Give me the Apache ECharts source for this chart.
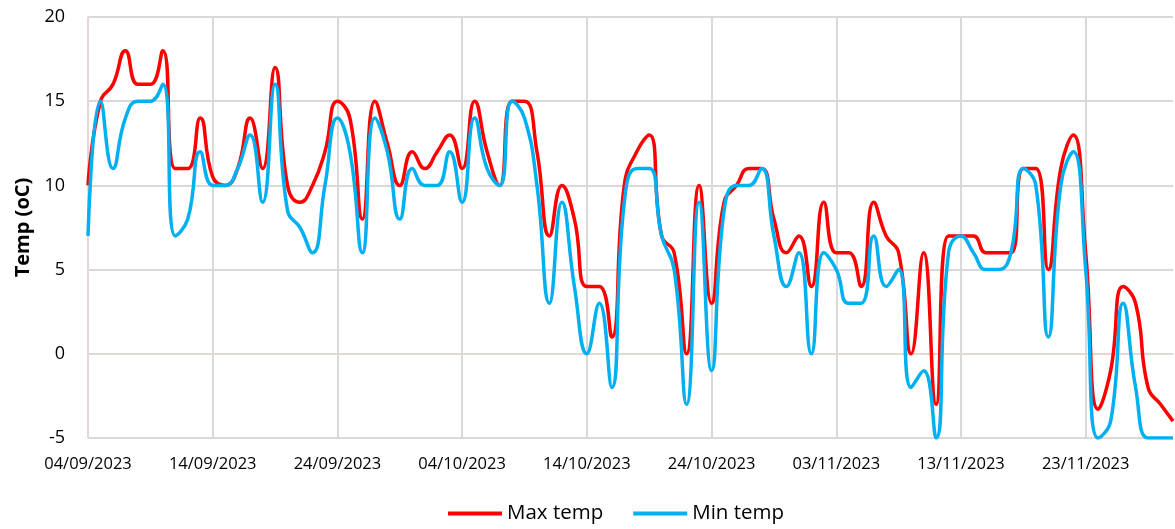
<!DOCTYPE html>
<html>
<head>
<meta charset="utf-8">
<script src="https://cdn.jsdelivr.net/npm/echarts@6/dist/echarts.min.js"></script>
<style>
html,body{margin:0;padding:0;background:#fff;}
#chart{width:1175px;height:529px;}
</style>
</head>
<body>
<div id="chart"></div>
<script>
var dates = [
"04/09/2023","05/09/2023","06/09/2023","07/09/2023","08/09/2023","09/09/2023","10/09/2023","11/09/2023","12/09/2023","13/09/2023",
"14/09/2023","15/09/2023","16/09/2023","17/09/2023","18/09/2023","19/09/2023","20/09/2023","21/09/2023","22/09/2023","23/09/2023",
"24/09/2023","25/09/2023","26/09/2023","27/09/2023","28/09/2023","29/09/2023","30/09/2023","01/10/2023","02/10/2023","03/10/2023",
"04/10/2023","05/10/2023","06/10/2023","07/10/2023","08/10/2023","09/10/2023","10/10/2023","11/10/2023","12/10/2023","13/10/2023",
"14/10/2023","15/10/2023","16/10/2023","17/10/2023","18/10/2023","19/10/2023","20/10/2023","21/10/2023","22/10/2023","23/10/2023",
"24/10/2023","25/10/2023","26/10/2023","27/10/2023","28/10/2023","29/10/2023","30/10/2023","31/10/2023","01/11/2023","02/11/2023",
"03/11/2023","04/11/2023","05/11/2023","06/11/2023","07/11/2023","08/11/2023","09/11/2023","10/11/2023","11/11/2023","12/11/2023",
"13/11/2023","14/11/2023","15/11/2023","16/11/2023","17/11/2023","18/11/2023","19/11/2023","20/11/2023","21/11/2023","22/11/2023",
"23/11/2023","24/11/2023","25/11/2023","26/11/2023","27/11/2023","28/11/2023","29/11/2023","30/11/2023"
];

var maxTemp = [
10, 15, 16, 18, 16, 16, 18, 11, 11, 14,
10.5, 10, 11, 14, 11, 17, 10, 9, 10, 12,
15, 14, 8, 15, 12.5, 10, 12, 11, 12, 13,
11, 15, 12, 10, 15, 15, 12, 7, 10, 8,
4, 4, 1, 10, 12, 13, 7, 6, 0, 10,
3, 9, 10, 11, 11, 8, 6, 7, 4, 9,
6, 6, 4, 9, 7, 6, 0, 6, -3, 7,
7, 7, 6, 6, 6, 11, 11, 5, 11, 13,
6, -3.3, -1, 4, 3, -2, -3, -4
];

var minTemp = [
7, 15, 11, 14, 15, 15, 16, 7, 8, 12,
10, 10, 11, 13, 9, 16, 8.5, 7.5, 6, 10,
14, 12, 6, 14, 12, 8, 11, 10, 10, 12,
9, 14, 11, 10, 15, 14, 10, 3, 9, 4,
0, 3, -2, 9, 11, 11, 7, 5, -3, 9,
-1, 8.5, 10, 10, 11, 7, 4, 6, 0, 6,
5, 3, 3, 7, 4, 5, -2, -1, -5, 6,
7, 6, 5, 5, 6, 11, 10, 1, 10, 12,
5, -5, -4, 3, -2, -5, -5, -5
];

var yTicks = {min: -5, max: 20, interval: 5};

var chart = echarts.init(document.getElementById('chart'), null, {renderer: 'canvas'});
var fontFam = "'Open Sans', 'Liberation Sans', sans-serif";
chart.setOption({
  animation: false,
  backgroundColor: '#ffffff',
  grid: {left: 88, right: 2, top: 17, bottom: 91, containLabel: false},
  legend: {
    bottom: 0,
    left: 443,
    icon: 'rect',
    itemWidth: 54,
    itemHeight: 4,
    itemGap: 30,
    textStyle: {fontFamily: fontFam, fontSize: 20.5, color: '#000'},
    data: ['Max temp', 'Min temp']
  },
  xAxis: {
    type: 'category',
    data: dates,
    boundaryGap: false,
    axisLine: {lineStyle: {color: '#e9d6d3', width: 1.5}},
    axisTick: {show: false},
    axisLabel: {interval: 9, fontFamily: fontFam, fontSize: 16.5, color: '#000', margin: 18},
    splitLine: {show: true, interval: 9, lineStyle: {color: '#d9d9d9', width: 2}}
  },
  yAxis: {
    type: 'value',
    min: yTicks.min,
    max: yTicks.max,
    interval: yTicks.interval,
    name: 'Temp (oC)',
    nameLocation: 'middle',
    nameGap: 55,
    nameTextStyle: {fontFamily: fontFam, fontSize: 20, fontWeight: 'bold', color: '#000'},
    axisLine: {show: true, lineStyle: {color: '#e9d6d3', width: 1.5}},
    axisTick: {show: false},
    axisLabel: {fontFamily: fontFam, fontSize: 18, color: '#000', margin: 23},
    splitLine: {show: true, lineStyle: {color: '#d9d9d9', width: 2}}
  },
  series: [
    {
      name: 'Max temp',
      type: 'line',
      data: maxTemp,
      smooth: 0.5,
      showSymbol: false,
      symbol: 'none',
      clip: true,
      lineStyle: {color: '#ff0000', width: 3.5},
      itemStyle: {color: '#ff0000'}
    },
    {
      name: 'Min temp',
      type: 'line',
      data: minTemp,
      smooth: 0.5,
      showSymbol: false,
      symbol: 'none',
      clip: true,
      lineStyle: {color: '#00b0f0', width: 3.5},
      itemStyle: {color: '#00b0f0'}
    }
  ]
});
</script>
</body>
</html>
